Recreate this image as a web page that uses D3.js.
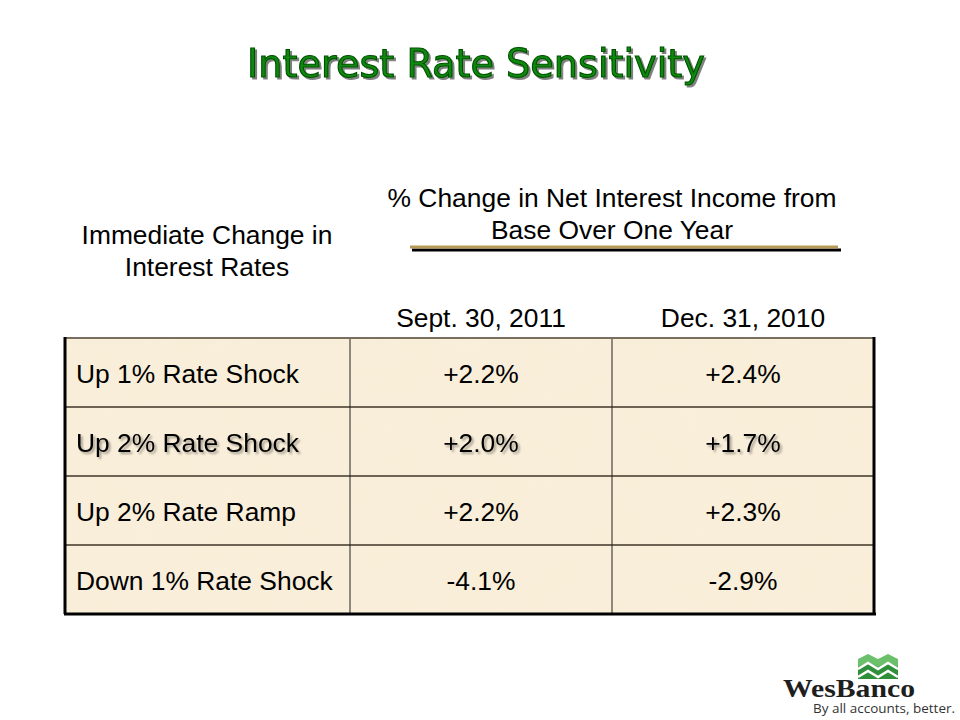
<!DOCTYPE html>
<html><head><meta charset="utf-8">
<script src="https://cdn.jsdelivr.net/npm/d3@7/dist/d3.min.js"></script>
<style>body{margin:0;background:#fff}svg{display:block}</style>
</head><body>
<script>
const title = "Interest Rate Sensitivity";
const rowHeader = ["Immediate Change in", "Interest Rates"];
const groupHeader = ["% Change in Net Interest Income from", "Base Over One Year"];
const columns = ["Sept. 30, 2011", "Dec. 31, 2010"];
const scenarios = ["Up 1% Rate Shock", "Up 2% Rate Shock", "Up 2% Rate Ramp", "Down 1% Rate Shock"];
const sept2011 = [2.2, 2.0, 2.2, -4.1];
const dec2010 = [2.4, 1.7, 2.3, -2.9];
const highlighted = ["Up 2% Rate Shock"];

(function(){
const W = 960, H = 720;
const svg = d3.select("body").append("svg").attr("width", W).attr("height", H);
const defs = svg.append("defs");

const f = defs.append("filter").attr("id","parch").attr("x",0).attr("y",0).attr("width","100%").attr("height","100%");
f.append("feTurbulence").attr("type","fractalNoise").attr("baseFrequency","0.025").attr("numOctaves",4).attr("seed",7).attr("result","n");
f.append("feColorMatrix").attr("in","n").attr("type","matrix")
  .attr("values","0 0 0 0 0.94  0 0 0 0 0.87  0 0 0 0 0.76  0.45 0 0 0 -0.12").attr("result","c");
f.append("feComposite").attr("in","c").attr("in2","SourceGraphic").attr("operator","in");

const sh = defs.append("filter").attr("id","tshadow");
sh.append("feDropShadow").attr("dx",2).attr("dy",2).attr("stdDeviation",0.7).attr("flood-color","#000").attr("flood-opacity",0.5);
const sh2 = defs.append("filter").attr("id","cshadow");
sh2.append("feDropShadow").attr("dx",2).attr("dy",2).attr("stdDeviation",1.2).attr("flood-color","#000").attr("flood-opacity",0.35);

const t = svg.append("text").attr("x", 476).attr("y", 77).attr("text-anchor","middle")
  .attr("font-family","DejaVu Sans, Verdana, sans-serif").attr("font-size",36)
  .attr("fill","#0b8a0b").attr("stroke","#045004").attr("stroke-width",1.1)
  .attr("filter","url(#tshadow)").text(title);
const tw = t.node().getComputedTextLength();
t.attr("font-size", 36 * 458 / tw);

const xL = 65, xR = 874, yT = 338, yB = 614;
const colX = d3.scaleOrdinal().domain(["label", ...columns]).range([xL, 350, 612]);
const colEnd = {"label":350}; colEnd[columns[0]] = 612; colEnd[columns[1]] = xR;
const y = d3.scaleBand().domain(scenarios).range([yT, yB]);

svg.append("rect").attr("x",xL).attr("y",yT).attr("width",xR-xL).attr("height",yB-yT).attr("fill","#f9eed8");
svg.append("rect").attr("x",xL).attr("y",yT).attr("width",xR-xL).attr("height",yB-yT)
  .attr("fill","#f9eed8").attr("filter","url(#parch)");

const font = "Liberation Sans, Arial, sans-serif";
const fs = 26.4;

svg.append("g").selectAll("text").data(rowHeader).join("text")
  .attr("x", 207).attr("y",(d,i)=>244 + i*32).attr("text-anchor","middle")
  .attr("font-family",font).attr("font-size",fs).attr("fill","#000").text(d=>d);
svg.append("g").selectAll("text").data(groupHeader).join("text")
  .attr("x", 612).attr("y",(d,i)=>207 + i*32).attr("text-anchor","middle")
  .attr("font-family",font).attr("font-size",fs).attr("fill","#000").text(d=>d);
svg.append("line").attr("x1",412).attr("x2",841).attr("y1",250).attr("y2",250).attr("stroke","#000").attr("stroke-width",3);
svg.append("line").attr("x1",410).attr("x2",838).attr("y1",247).attr("y2",247).attr("stroke","#b79a55").attr("stroke-width",3);

svg.append("g").selectAll("text").data(columns).join("text")
  .attr("x", d => (colX(d) + colEnd[d]) / 2).attr("y", 327).attr("text-anchor","middle")
  .attr("font-family",font).attr("font-size",fs).attr("fill","#000").text(d=>d);

const grid = svg.append("g");
grid.selectAll("line.h").data(scenarios.slice(1)).join("line")
  .attr("x1",xL).attr("x2",xR).attr("y1",d=>y(d)).attr("y2",d=>y(d))
  .attr("stroke","#6e6454").attr("stroke-width",2);
grid.selectAll("line.v").data(columns).join("line")
  .attr("x1",d=>colX(d)).attr("x2",d=>colX(d)).attr("y1",yT).attr("y2",yB)
  .attr("stroke","#222").attr("stroke-width",1);
grid.append("line").attr("x1",xL).attr("x2",xR).attr("y1",yT).attr("y2",yT).attr("stroke","#7a6f5f").attr("stroke-width",2);
grid.append("line").attr("x1",xL-1).attr("x2",xR+2).attr("y1",yB).attr("y2",yB).attr("stroke","#000").attr("stroke-width",3);
grid.append("line").attr("x1",xL).attr("x2",xL).attr("y1",yT-1).attr("y2",yB).attr("stroke","#000").attr("stroke-width",3);
grid.append("line").attr("x1",xR).attr("x2",xR).attr("y1",yT-1).attr("y2",yB+1).attr("stroke","#000").attr("stroke-width",3);

const fmt = v => (v > 0 ? "+" : "") + v.toFixed(1) + "%";
const rows = svg.append("g").selectAll("g").data(scenarios).join("g")
  .attr("transform", d => `translate(0,${y(d) + y.bandwidth()/2 + 10})`)
  .attr("filter", d => highlighted.includes(d) ? "url(#cshadow)" : null);
rows.append("text").attr("x", 76).attr("font-family",font).attr("font-size",fs).text(d=>d);
rows.append("text").attr("x", (colX(columns[0]) + colEnd[columns[0]]) / 2).attr("text-anchor","middle")
  .attr("font-family",font).attr("font-size",fs).text((d,i)=>fmt(sept2011[i]));
rows.append("text").attr("x", (colX(columns[1]) + colEnd[columns[1]]) / 2).attr("text-anchor","middle")
  .attr("font-family",font).attr("font-size",fs).text((d,i)=>fmt(dec2010[i]));

// Logo
const logo = svg.append("g");
logo.append("path").attr("d","M858,662 L868,656 L878,662 L888,656 L898,662 L898,679 L858,679 Z").attr("fill","#2f8f3a");
logo.append("path").attr("d","M858,659 L868,654 L878,659 L888,654 L898,659 L898,667 L888,662 L878,667 L868,662 L858,667 Z").attr("fill","#6cc06c");
const zig = (yy) => `M858,${yy} L868,${yy-6} L878,${yy} L888,${yy-6} L898,${yy}`;
logo.append("path").attr("d", zig(669)).attr("fill","none").attr("stroke","#fff").attr("stroke-width",2.5);
logo.append("path").attr("d", zig(677)).attr("fill","none").attr("stroke","#fff").attr("stroke-width",2.5);
logo.append("text").attr("x",783).attr("y",697).attr("font-family","Liberation Serif, Times New Roman, serif")
  .attr("font-weight","bold").attr("font-size",25).attr("textLength",132).attr("lengthAdjust","spacingAndGlyphs")
  .attr("fill","#1e1e1e").text("WesBanco");
logo.append("text").attr("x",813).attr("y",713).attr("font-family","Open Sans, DejaVu Sans, sans-serif")
  .attr("font-size",13).attr("textLength",142).attr("lengthAdjust","spacingAndGlyphs").attr("fill","#333").text("By all accounts, better.");
})();
</script>
</body></html>
